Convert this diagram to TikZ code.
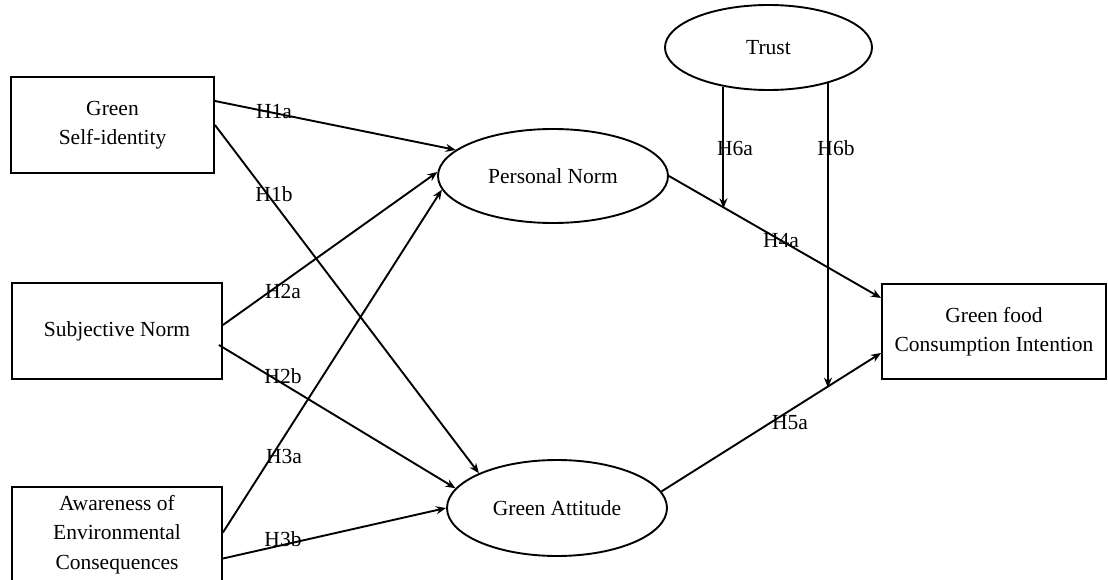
\documentclass[tikz,border=0pt]{standalone}
\usepackage{fontspec}
\setmainfont{Liberation Serif}
\usetikzlibrary{shapes.geometric,arrows.meta,calc}
\begin{document}
\begin{tikzpicture}[x=1pt,y=-1pt,
  txt/.style={font=\fontsize{21.5}{29.5}\selectfont},
  box/.style={txt, draw, line width=1.9pt, align=center, inner sep=0pt},
  ell/.style={txt, draw, ellipse, line width=1.9pt, inner sep=0pt},
  arr/.style={line width=1.9pt, -{Stealth[length=10pt,width=8pt]}},
  lab/.style={txt, inner sep=0pt}]
\useasboundingbox (0,0) rectangle (1108,580);
% boxes
\node[box, minimum width=203pt, minimum height=96pt] (gsi) at (112.5,125) {Green\\Self-identity};
\node[box, minimum width=210pt, minimum height=96pt] (sn) at (117,331) {Subjective Norm};
\node[box, minimum width=210pt, minimum height=95pt] (aec) at (117,534.5) {Awareness of\\Environmental\\Consequences};
\node[box, minimum width=224pt, minimum height=95pt] (gfc) at (994,331.5) {Green food\\Consumption Intention};
% ellipses
\node[ell, minimum width=230pt, minimum height=94pt] (pn) at (553,176) {Personal Norm};
\node[ell, minimum width=220pt, minimum height=96pt] (ga) at (557,508) {Green Attitude};
\node[ell, minimum width=207pt, minimum height=85pt] (tr) at (768.5,47.5) {Trust};
% connectors
\draw[arr] ([yshift=24pt]gsi.east) -- (pn.165);
\draw[arr] (gsi.east) -- (ga.156);
\draw[arr] ([yshift=6pt]sn.east) -- (pn.178);
\draw[arr] ([yshift=-14pt,xshift=-4pt]sn.east) -- (ga.169);
\draw[arr] ([yshift=2pt]aec.east) -- (pn.187);
\draw[arr] ([yshift=-24pt]aec.east) -- (ga.180);
\draw[arr] (pn.east) -- ([yshift=33.5pt]gfc.west);
\draw[arr] (ga.9) -- ([yshift=-21.5pt]gfc.west);
\coordinate (m4) at ($(pn.east)!0.265!([yshift=33.5pt]gfc.west)$);
\coordinate (m5) at ($(ga.9)!0.75!([yshift=-21.5pt]gfc.west)$);
\draw[arr] (tr.221) -- (tr.221 |- m4);
\draw[arr] (tr.329) -- (tr.329 |- m5);
% labels
\node[lab] (l1a) at (274,112) {H1a};
\node[lab] (l1b) at (274,194) {H1b};
\node[lab] (l2a) at (283,291) {H2a};
\node[lab] (l2b) at (283,376) {H2b};
\node[lab] (l3a) at (284,456) {H3a};
\node[lab] (l3b) at (283,539) {H3b};
\node[lab] (l4a) at (781,241) {H4a};
\node[lab] (l5a) at (790,423) {H5a};
\node[lab] (l6a) at (735,148) {H6a};
\node[lab] (l6b) at (836,148) {H6b};
\end{tikzpicture}
\end{document}
